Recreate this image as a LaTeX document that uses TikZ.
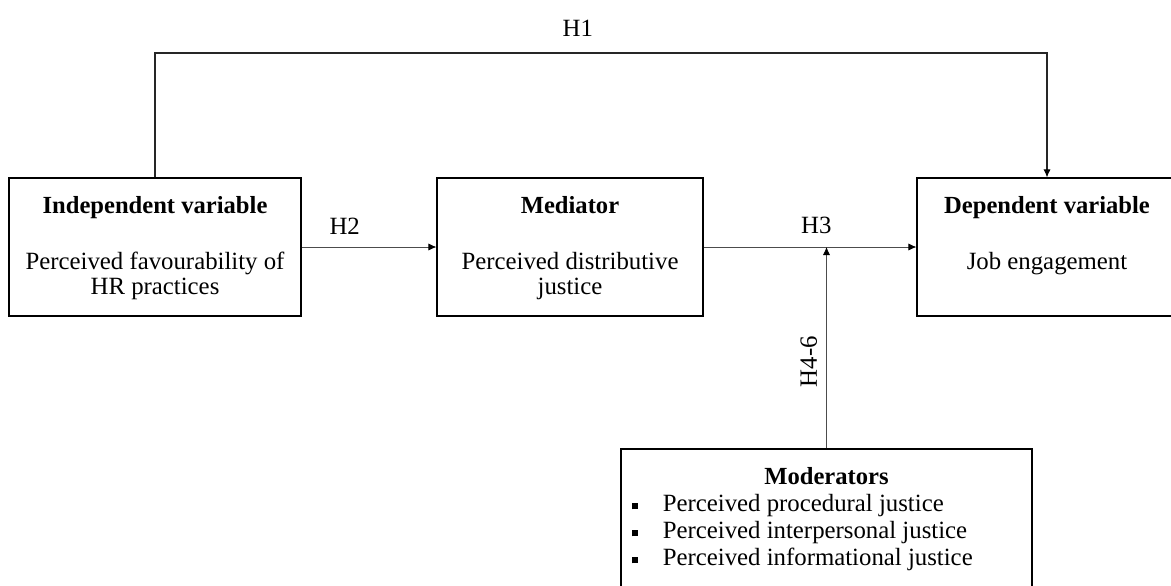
\documentclass[tikz,border=0pt]{standalone}
\usepackage{fontspec}
\setmainfont{Liberation Serif}
\usepackage{tikz}
\usetikzlibrary{arrows.meta,positioning}
\newcommand{\diagfont}{\fontsize{12.4}{12.5}\selectfont}
\newcommand{\titlefont}{\fontsize{12.3}{12.5}\selectfont\bfseries}
\newcommand{\modfont}{\fontsize{12.4}{13.5}\selectfont}
\newcommand{\sqbullet}{\rule[1.2pt]{3pt}{3pt}}
\tikzset{
  varbox/.style={draw=black,line width=0.6pt,minimum height=69pt,inner sep=0pt},
  vartitle/.style={font=\titlefont,anchor=base,inner sep=0pt},
  vartext/.style={font=\diagfont,align=center,anchor=north,inner sep=0pt},
  modlist/.style={font=\modfont,anchor=north west,inner sep=0pt},
  flow/.style={-{Latex[length=4pt,width=3.6pt,color=black]},line width=0.4pt,draw=black!70},
  hyp/.style={font=\diagfont,inner sep=0pt}
}

\begin{document}
\begin{tikzpicture}[x=0.5pt,y=-0.5pt]
  \useasboundingbox (0,0) rectangle (1171,585);
  \clip (0,0) rectangle (1171,585);
  % boxes
  \node[varbox,minimum width=146pt] (indep) at (155,247) {};
  \node[varbox,minimum width=133pt] (med) at (570,247) {};
  \node[varbox,minimum width=130pt] (dep) at (1047,247) {};
  \node[varbox,minimum width=205.5pt,minimum height=85.5pt] (mod) at (826.5,534.5) {};
  % box texts
  \node[vartitle] (indep-t) at ([yshift=-18pt]indep.north) {Independent variable};
  \node[vartext] (indep-b) at ([yshift=-37pt]indep.north) {Perceived favourability of\\HR practices};
  \node[vartitle] (med-t) at ([yshift=-18pt]med.north) {Mediator};
  \node[vartext] (med-b) at ([yshift=-37pt]med.north) {Perceived distributive\\justice};
  \node[vartitle] (dep-t) at ([yshift=-18pt]dep.north) {Dependent variable};
  \node[vartext] (dep-b) at ([yshift=-37pt]dep.north) {Job engagement};
  \node[vartitle] (mod-t) at ([yshift=-18pt]mod.north) {Moderators};
  \node[modlist] (mod-b) at ([xshift=5.5pt,yshift=-22pt]mod.north west) {%
    \begin{tabular}{@{}p{15.5pt}@{}l@{}}
      \sqbullet & Perceived procedural justice\\
      \sqbullet & Perceived interpersonal justice\\
      \sqbullet & Perceived informational justice
    \end{tabular}};
  % hypotheses
  \coordinate (h1bend) at (155,53);
  \draw[flow,line width=0.55pt,draw=black!85] (indep.north) -- (h1bend) -| (dep.north)
    node[hyp,pos=0.237,above=8pt] (h1) {H1};
  \draw[flow] (indep.east) -- (med.west) node[hyp,pos=0.32,above=6pt] (h2) {H2};
  \draw[flow] (med.east) -- (dep.west) node[hyp,pos=0.53,above=6.5pt] (h3) {H3};
  \draw[flow] (mod.north) -- (mod.north |- med.east)
    node[hyp,pos=0.43,xshift=-4.5pt,rotate=90,anchor=south] (h46) {H4-6};
\end{tikzpicture}
\end{document}
